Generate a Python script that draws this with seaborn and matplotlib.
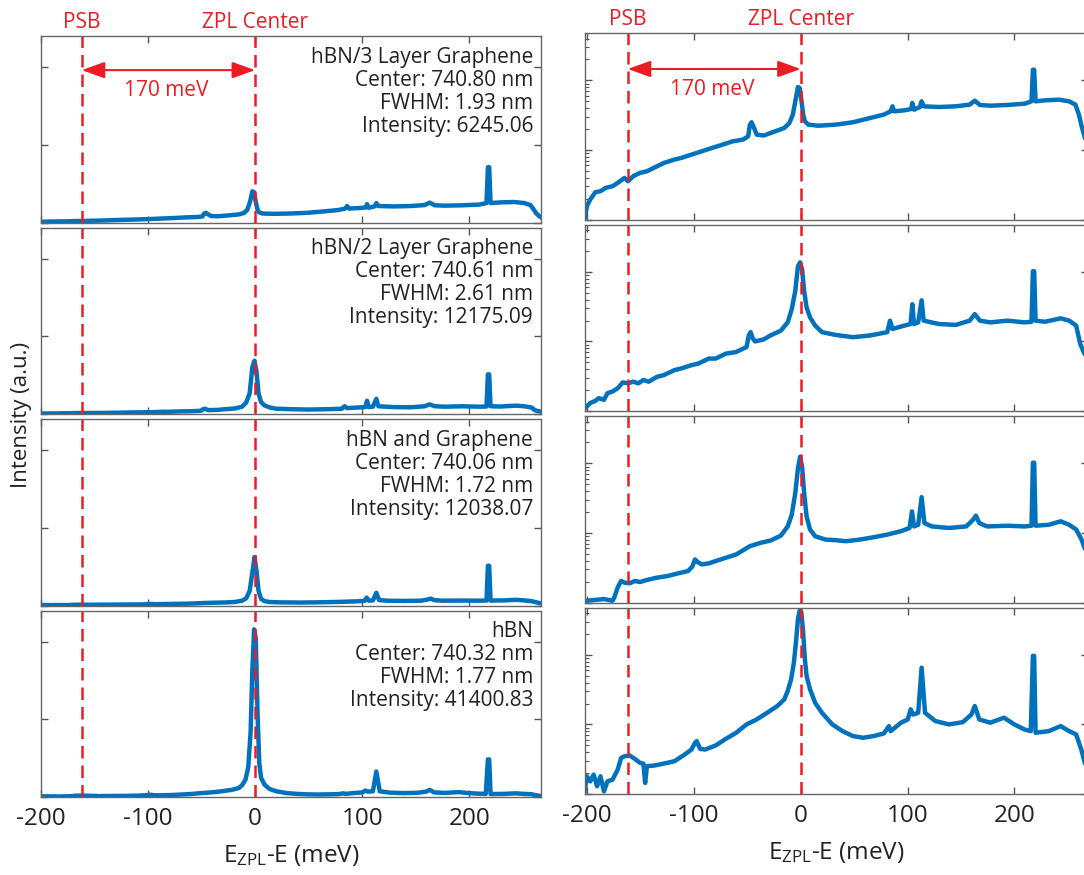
import numpy as np
import pandas as pd
import seaborn as sns
import matplotlib.pyplot as plt

# spectra: x = E_ZPL - E (meV), y = counts
x_3lg = [-201.9, -200.3, -197.1, -192.3, -187.5, -182.6, -176.2, -171.4, -165, -161.7, -156.9, -150.5,
         -144, -137.6, -128, -118.3, -111.9, -102.3, -92.6, -83, -73.3, -63.7, -54, -49.2, -47.6, -46,
         -43.7, -41.2, -34.7, -28.3, -21.9, -15.4, -10.6, -7.4, -4.8, -2.6, -1, 0.6, 2.3, 3.9, 7.1,
         16.7, 32.8, 48.9, 65, 77.8, 84.2, 85.9, 87.5, 97.1, 103.5, 104.5, 106.1, 111.6, 113.2, 115.1,
         129.3, 145.3, 158.2, 163, 167.8, 177.5, 193.6, 209.6, 216.1, 217.4, 218.6, 219.9, 228.9,
         241.8, 251.4, 257.2, 260.5, 262.7, 266, 269]
y_3lg = [10.6, 15.5, 19.4, 24.7, 25.5, 28.5, 30.1, 33.6, 39.6, 35.5, 41.9, 46.8,
         49.4, 55.2, 65.1, 72.7, 76.8, 85.7, 95.7, 107, 119, 133, 141, 157, 231, 250,
         207, 166, 161, 175, 190, 207, 244, 322, 528, 802, 776, 528, 322, 258, 231,
         223, 231, 250, 288, 322, 359, 424, 359, 371, 388, 473, 379, 414, 500, 424,
         414, 424, 448, 511, 443, 433, 443, 462, 500, 1422, 1422, 500, 517,
         528, 500, 448, 322, 231, 150, 100]

x_2lg = [-201.9, -197.1, -192.3, -189.1, -184.2, -181, -176.2, -171.4, -166.6, -161.7, -156.9, -152.1,
         -147.3, -142.4, -134.4, -128, -118.3, -111.9, -102.3, -95.8, -86.2, -79.7, -70.1, -60.5,
         -50.8, -48.6, -46.9, -45, -42.8, -34.7, -28.3, -18.6, -12.2, -8.4, -5.1, -2.6, -0.6, 1.3,
         3.2, 5.5, 8.7, 13.5, 19.9, 32.8, 48.9, 65, 81, 83.6, 85.9, 97.1, 102.9, 104.5, 106.1, 110,
         113.2, 115.1, 129.3, 145.3, 158.2, 163, 167.8, 177.5, 193.6, 209.6, 216.1, 217.4, 218.6,
         219.9, 228.9, 243.4, 251.4, 257.9, 261.7, 265, 269]
y_2lg = [11.0, 13.0, 14.0, 15.3, 14.5, 18.0, 19.1, 21.2, 25.8, 25.0, 26.4, 25.0,
         27.9, 26.4, 31.1, 32.9, 38.7, 40.9, 45.6, 48.1, 56.7, 56.7, 66.8, 70.5,
         83.0, 122, 136, 111, 100, 107, 122, 143, 188, 291, 531, 1205, 1371, 1079,
         531, 308, 222, 169, 136, 124, 115, 122, 136, 199, 151, 169, 178, 343, 178, 188,
         391, 199, 178, 173, 199, 247, 199, 188, 199, 188, 192, 1021, 1021,
         199, 192, 215, 199, 169, 92.6, 70, 55]

x_1lg = [-200.3, -192.3, -184.2, -176.2, -174.6, -171.4, -168.2, -165, -160.1, -155.3, -150.5, -144,
         -134.4, -124.8, -115.1, -105.5, -101.6, -99, -96.5, -92.6, -86.2, -79.7, -70.1, -60.5, -47.6,
         -37.9, -28.3, -18.6, -12.2, -8.4, -5.1, -2.6, -0.6, 1.3, 3.2, 5.5, 8.7, 13.5, 23.2, 32.8,
         42.4, 55.3, 68.2, 81, 93.9, 101.9, 104.2, 106.1, 110, 113.2, 115.8, 122.8, 138.9, 155,
         161.4, 164, 167.2, 174.3, 193.6, 209.6, 216.1, 217.4, 218.6, 219.9, 232.2, 243.4, 251.4,
         257.9, 262.7, 266, 269]
y_1lg = [10.6, 10.9, 11.2, 10.6, 11.8, 16.4, 20.4, 19.3, 18.9, 20.4, 19.7, 21.1,
         22.8, 24.0, 26.2, 28.3, 32.7, 41.6, 38.1, 35.3, 36.5, 39.4, 44.0, 49.0, 64.5,
         71.9, 77.7, 91.6, 124, 183, 373, 848, 1245, 896, 373, 173, 112, 89.6, 80.3, 78.6,
         76.0, 80.3, 86.7, 94.7, 106, 118, 204, 124, 131, 327, 139, 124, 118, 124,
         155, 177, 139, 124, 127, 124, 127, 1023, 1023, 127, 131, 147, 131,
         112, 82, 60, 45]

x_hbn = [-202.6, -200.3, -197.1, -193.9, -190.7, -187.5, -184.2, -181, -176.2, -171.4, -168.2, -165,
         -160.1, -155.3, -150.5, -147.3, -145.7, -144, -137.6, -128, -118.3, -108.7, -102.3, -99,
         -97.4, -94.2, -89.4, -79.7, -70.1, -60.5, -50.8, -41.2, -31.5, -21.9, -15.4, -12.2, -9,
         -6.4, -4.2, -2.6, -1, 0.6, 2.3, 3.9, 5.5, 8.7, 13.5, 19.9, 29.6, 39.2, 48.9, 58.5, 68.2,
         77.8, 82.6, 84.2, 93.9, 100.3, 102.9, 105.1, 110, 113.2, 116.4, 126, 138.9, 151.8, 159.8,
         163, 167.2, 177.5, 190.4, 200, 209.6, 215.4, 217.4, 218.6, 219.9, 232.2, 243.4, 251.4,
         257.9, 262.7, 266, 269]
y_hbn = [10.3, 18.0, 15.2, 19.0, 12.9, 18.0, 10.9, 15.2, 16.1, 22.4, 33.0, 34.9,
         35.7, 32.0, 28.0, 27.4, 14.4, 25.1, 25.6, 27.4, 29.6, 36.9, 43.6, 54.4,
         57.5, 44.6, 43.6, 49.8, 62.1, 75.9, 100, 118, 147, 184, 229, 303, 446,
         774, 1683, 3268, 4315, 4083, 2099, 866, 498, 320, 205, 147, 100, 80.1, 68.0, 64.3, 68.0,
         74.2, 94.6, 80.1, 106, 118, 165, 139, 147, 656, 147, 112, 100, 108, 139,
         184, 118, 106, 125, 100, 84.7, 80.1, 968, 968, 75.9, 80.1, 94.6, 80.1,
         71.8, 43.6, 28, 20]

samples = ['hBN/3 Layer Graphene', 'hBN/2 Layer Graphene', 'hBN and Graphene', 'hBN']
centers = ['740.80', '740.61', '740.06', '740.32']
fwhms = ['1.93', '2.61', '1.72', '1.77']
intensities = ['6245.06', '12175.09', '12038.07', '41400.83']
psb_pos = -162
zpl_pos = 0

frames = []
for s, xs, ys in zip(samples, [x_3lg, x_2lg, x_1lg, x_hbn], [y_3lg, y_2lg, y_1lg, y_hbn]):
    frames.append(pd.DataFrame({'sample': s, 'energy': xs, 'counts': ys}))
spectra = pd.concat(frames, ignore_index=True)

sns.set_theme(style='ticks')
plt.rcParams['font.family'] = ['Open Sans', 'DejaVu Sans']
plt.rcParams['mathtext.fontset'] = 'custom'
plt.rcParams['mathtext.rm'] = 'Open Sans'
plt.rcParams['mathtext.it'] = 'Open Sans:italic'
plt.rcParams['axes.unicode_minus'] = False

blue = '#0072BD'
red = '#ED1C24'
W, H = 1084, 875

fig = plt.figure(figsize=(W / 100, H / 100), dpi=100)

panel_h = 186.5
gap = 5
cols = [(41, 500, 36, (-199.5, 267), 'linear'), (585, 503, 33, (-202, 269), 'log')]

for left, width, top0, xlim, scale in cols:
    for i, s in enumerate(samples):
        top = top0 + i * (panel_h + gap)
        ax = fig.add_axes([left / W, 1 - (top + panel_h) / H, width / W, panel_h / H])
        sub = spectra[spectra['sample'] == s]
        sns.lineplot(data=sub, x='energy', y='counts', ax=ax, color=blue, lw=3.2)
        ax.axvline(psb_pos, color=red, lw=1.8, ls=(0, (5, 2.8)))
        ax.axvline(zpl_pos, color=red, lw=1.8, ls=(0, (5, 2.8)))
        ax.set_xlim(*xlim)
        ax.set_xticks([-200, -100, 0, 100, 200])
        if scale == 'linear':
            ax.set_ylim(0, 4800)
            ax.set_yticks([0, 2000, 4000])
        else:
            ax.set_yscale('log')
            ax.set_ylim(10, 4800)
        ax.tick_params(which='both', direction='in', top=True, right=True, labelleft=False,
                       color='#555555', labelsize=17.5, labelcolor='#222222', pad=7)
        ax.tick_params(which='major', length=5, width=1)
        ax.tick_params(which='minor', length=3, width=0.8)
        for sp in ax.spines.values():
            sp.set_color('#666666')
            sp.set_linewidth(1)
        ax.set_ylabel('')
        if i < 3:
            ax.tick_params(labelbottom=False)
            ax.set_xlabel('')
        else:
            ax.set_xlabel(r'E$_{\mathrm{ZPL}}$-E (meV)', fontsize=17.5, color='#222222', labelpad=9)

        if scale == 'linear':
            lines = [s, 'Center: ' + centers[i] + ' nm', 'FWHM: ' + fwhms[i] + ' nm',
                     'Intensity: ' + intensities[i]]
            for j, t in enumerate(lines):
                ax.text(0.984, 0.887 - j * 0.1235, t, transform=ax.transAxes, ha='right',
                        va='center', fontsize=15, color='#222222')

        if i == 0:
            tr = ax.get_xaxis_transform()
            ay = 0.817 if scale == 'linear' else 0.807
            ax.text(psb_pos, 1.072, 'PSB', transform=tr, ha='center', va='center',
                    color=red, fontsize=15)
            ax.text(zpl_pos, 1.072, 'ZPL Center', transform=tr, ha='center', va='center',
                    color=red, fontsize=15)
            ax.annotate('', xy=(zpl_pos, ay), xytext=(psb_pos, ay), xycoords=tr, textcoords=tr,
                        arrowprops=dict(arrowstyle='<|-|>,head_length=0.7,head_width=0.25',
                                        color=red, lw=1.5, mutation_scale=20,
                                        shrinkA=0, shrinkB=0))
            ax.text(-83, ay - 0.11, '170 meV', transform=tr, ha='center', va='center',
                    color=red, fontsize=15)

fig.text(22 / W, 1 - 415 / H, 'Intensity (a.u.)', rotation=90, ha='center', va='center',
         fontsize=16, color='#222222')

fig.savefig('out.png', dpi=100)
